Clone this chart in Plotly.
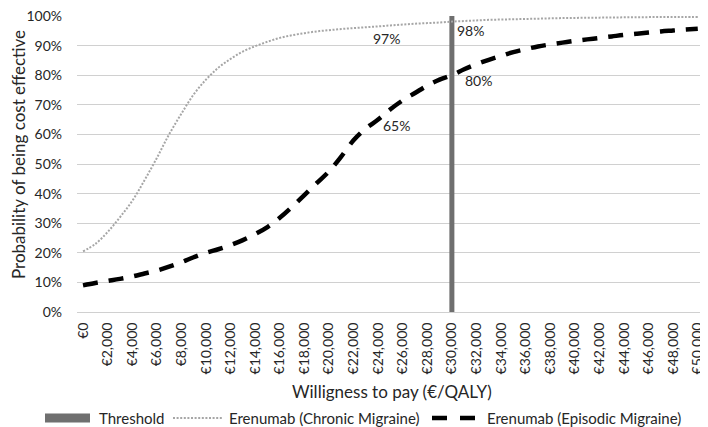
import plotly.graph_objects as go

# willingness to pay (EUR/QALY), one point per 1,000
wtp = list(range(0, 51000, 1000))

chronic = [20.5, 23, 27, 32, 37.5, 44.5, 52, 60, 67, 73.5, 78.5,
           82.5, 85.5, 88, 89.8, 91.3, 92.6, 93.5, 94.2, 94.8, 95.2,
           95.6, 95.9, 96.2, 96.5, 96.8, 97.1, 97.4, 97.6, 97.8, 98.1,
           98.3, 98.5, 98.7, 98.8, 98.9, 99.0, 99.1, 99.2, 99.3, 99.35,
           99.4, 99.45, 99.5, 99.55, 99.6, 99.62, 99.65, 99.68, 99.7, 99.7]

episodic = [9, 9.8, 10.5, 11.2, 12, 13, 14, 15.3, 16.8, 18.5, 20,
            21.2, 22.6, 24.3, 26.3, 28.7, 31.8, 35.5, 39.5, 43.5, 47.5,
            52.5, 58, 62, 65, 68.5, 71.5, 74, 76.5, 78.5, 80,
            82, 83.7, 85.2, 86.5, 87.8, 88.8, 89.7, 90.4, 91, 91.6,
            92.1, 92.6, 93.1, 93.6, 94.0, 94.4, 94.8, 95.1, 95.4, 95.7]

threshold_x = [30000, 30000]
threshold_y = [0, 100]

tick_vals = list(range(0, 51000, 2000))
tick_text = ["€0"] + ["€{:,}".format(v) for v in tick_vals[1:]]

# labelled points: (wtp, value, text, pixel offset x, y)
labels = [
    (24000, 96.6, "97%", 8, 12),
    (30000, 98.1, "98%", 19, 9),
    (30000, 80, "80%", 27, 5),
    (24000, 65, "65%", 18, 6),
]

font = "Lato, 'Open Sans', sans-serif"
ink = "#262626"
thr_col = "#6f6f6f"
chr_col = "#a6a6a6"

W, H = 700, 419
L, R, T, B = 69, 1, 8, 115
pw, ph = W - L - R, H - T - B


def px(x):
    return (x - L) / pw


def py(y):
    return (H - B - y) / ph


fig = go.Figure()
fig.add_trace(go.Scatter(x=threshold_x, y=threshold_y, mode="lines",
                         name="Threshold", showlegend=False,
                         line=dict(color=thr_col, width=5)))
fig.add_trace(go.Scatter(x=wtp, y=chronic, mode="lines",
                         name="Erenumab (Chronic Migraine)", showlegend=False,
                         line=dict(color=chr_col, width=2, dash="2px,1.6px", shape="spline")))
fig.add_trace(go.Scatter(x=wtp, y=episodic, mode="lines",
                         name="Erenumab (Episodic Migraine)", showlegend=False,
                         line=dict(color="#000000", width=4.5, dash="15px,11px", shape="spline")))

for x, y, t, dx, dy in labels:
    fig.add_annotation(x=x, y=y, text=t, showarrow=False,
                       xshift=dx, yshift=-dy,
                       font=dict(size=14, color=ink, family=font))

# axis titles
fig.add_annotation(xref="paper", yref="paper", x=px(10), y=py(147),
                   xanchor="center", yanchor="middle",
                   text="Probability of being cost effective", textangle=-90,
                   showarrow=False, font=dict(size=17, color=ink, family=font))
fig.add_annotation(xref="paper", yref="paper", x=px(384), y=py(383),
                   xanchor="center", yanchor="middle",
                   text="Willigness to pay (€/QALY)",
                   showarrow=False, font=dict(size=17, color=ink, family=font))

# legend drawn below the axis, Excel style
ly = py(410)
fig.add_shape(type="rect", xref="paper", yref="paper",
              x0=px(37), x1=px(82), y0=py(414.5), y1=py(405.5),
              fillcolor=thr_col, line_width=0)
fig.add_shape(type="line", xref="paper", yref="paper",
              x0=px(165), x1=px(214), y0=ly, y1=ly,
              line=dict(color=chr_col, width=2, dash="2px,1.6px"))
fig.add_shape(type="line", xref="paper", yref="paper",
              x0=px(424), x1=px(467), y0=ly, y1=ly,
              line=dict(color="#000000", width=4.5, dash="15px,13px"))
for x0, name in [(89, "Threshold"), (219, "Erenumab (Chronic Migraine)"),
                 (477, "Erenumab (Episodic Migraine)")]:
    fig.add_annotation(xref="paper", yref="paper", x=px(x0), y=ly,
                       xanchor="left", yanchor="middle", text=name,
                       showarrow=False, font=dict(size=15, color=ink, family=font))

fig.update_xaxes(range=[-490, 50750], tickvals=tick_vals, ticktext=tick_text,
                 tickangle=-90, showgrid=False, zeroline=False,
                 showline=True, linecolor="#d0d0d0", linewidth=1,
                 ticks="", ticklabelstandoff=4, ticklabeloverflow="allow",
                 tickfont=dict(size=14, color=ink))
fig.update_yaxes(range=[0, 100], dtick=10, ticksuffix="%",
                 showgrid=True, gridcolor="#d0d0d0", gridwidth=1,
                 zeroline=False, showline=False,
                 ticks="", ticklabelstandoff=14, ticklabeloverflow="allow",
                 tickfont=dict(size=14, color=ink))

fig.update_layout(
    width=W, height=H,
    margin=dict(l=L, r=R, t=T, b=B, autoexpand=False),
    plot_bgcolor="white", paper_bgcolor="white",
    font=dict(family=font, color=ink),
    showlegend=False,
)

fig.write_html("out.html")
